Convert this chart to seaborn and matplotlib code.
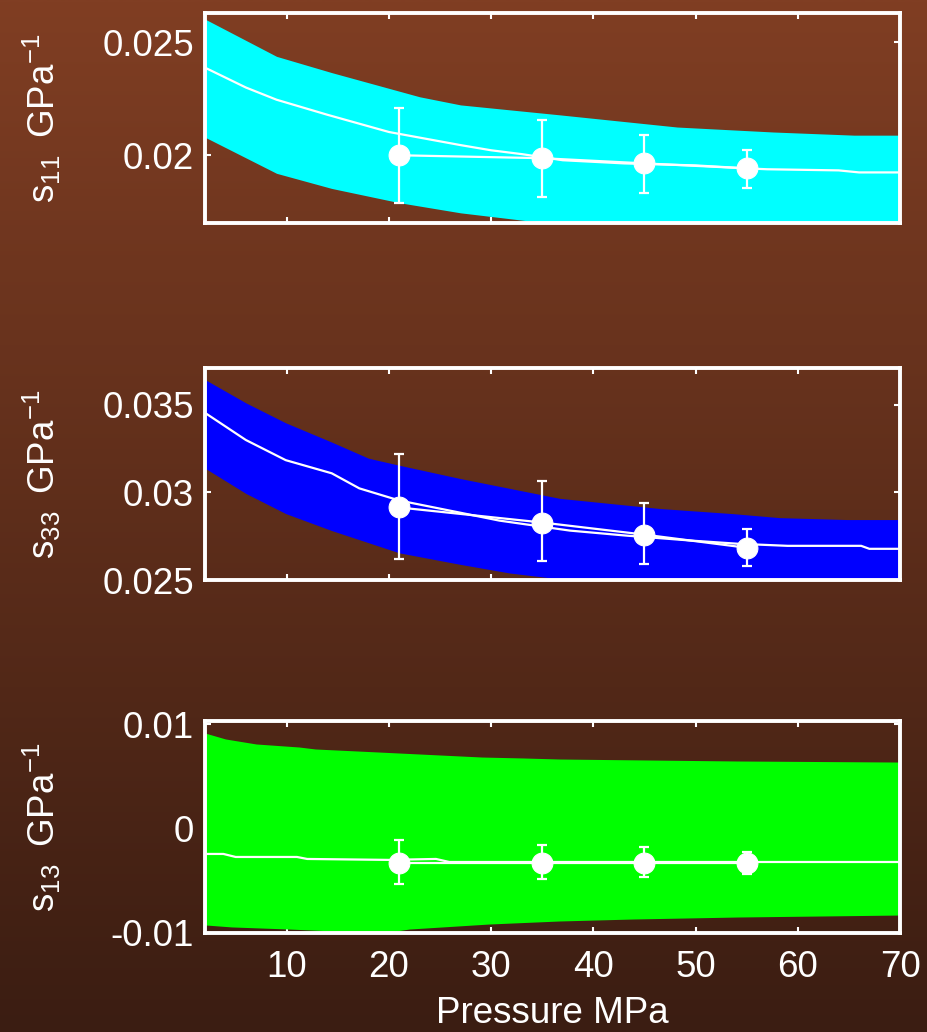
import numpy as np
import pandas as pd
import matplotlib
matplotlib.use("Agg")
import matplotlib.pyplot as plt
import seaborn as sns
from matplotlib.ticker import FixedLocator, FixedFormatter

# ---------------- data ----------------
# measured points (pressure, MPa)
P_pts = [21, 35, 45, 55]

s11_pts = [0.0200, 0.01987, 0.01964, 0.01942]
s11_err_hi = [0.0221, 0.02156, 0.02089, 0.02022]
s11_err_lo = [0.0179, 0.01813, 0.01835, 0.01857]

s33_pts = [0.02914, 0.02828, 0.02759, 0.02684]
s33_err_hi = [0.03218, 0.03063, 0.02937, 0.02793]
s33_err_lo = [0.02621, 0.02609, 0.02592, 0.02580]

s13_pts = [-0.0033, -0.0033, -0.0033, -0.0033]
s13_err_hi = [-0.00110, -0.00157, -0.00177, -0.00225]
s13_err_lo = [-0.00531, -0.00483, -0.00464, -0.00435]

# model curves (mean and band)
s11_mean_P = [2, 6, 9, 14, 20, 27, 30, 33, 37, 43, 50, 55, 57, 64, 66, 70]
s11_mean = [0.02388, 0.02300, 0.02246, 0.02179, 0.02103, 0.02045, 0.02022, 0.02005,
            0.01978, 0.01964, 0.01955, 0.01942, 0.01938, 0.01933, 0.01924, 0.01924]
s11_up_P = [2, 9, 14.4, 23, 27, 36.7, 48.2, 57.6, 65.5, 70]
s11_up = [0.02603, 0.02438, 0.02366, 0.02259, 0.02223, 0.02179, 0.02125, 0.02103, 0.02089, 0.02089]
s11_lo_P = [2, 9, 14.4, 21, 27, 33.5, 40, 50, 60, 70]
s11_lo = [0.0208, 0.0192, 0.01853, 0.0179, 0.01745, 0.0171, 0.0169, 0.0168, 0.0167, 0.0167]

s33_mean_P = [2, 6, 9.9, 14.4, 17.1, 21, 26.9, 30.8, 37.7, 43.3, 49.8, 54.1, 59, 66.2, 67, 70]
s33_mean = [0.03454, 0.03299, 0.03184, 0.03109, 0.03023, 0.02954, 0.02885, 0.02839,
            0.02782, 0.02753, 0.02724, 0.02707, 0.02695, 0.02695, 0.02678, 0.02678]
s33_up_P = [2, 6, 9.9, 14.4, 18, 21, 26.9, 36.7, 46.5, 53.6, 58.2, 64.8, 70]
s33_up = [0.03644, 0.03511, 0.03397, 0.03287, 0.03195, 0.03155, 0.0308, 0.02966,
          0.02908, 0.02879, 0.02856, 0.02845, 0.02845]
s33_lo_P = [2, 6, 9.9, 14.4, 21, 26.9, 31.8, 36.7, 42, 50, 60, 70]
s33_lo = [0.03138, 0.02994, 0.02879, 0.02782, 0.02655, 0.0259, 0.0254, 0.02506,
          0.0248, 0.0247, 0.0246, 0.0246]

s13_mean_P = [2, 3.8, 5, 11, 12, 20, 24.6, 25.9, 70]
s13_mean = [-0.00243, -0.00243, -0.00272, -0.00272, -0.00291, -0.0030, -0.00291, -0.0032, -0.0032]
s13_up_P = [2, 4, 7, 11.2, 12.8, 19, 23, 29.1, 33.1, 36.7, 54.1, 70]
s13_up = [0.00915, 0.00858, 0.0081, 0.00781, 0.00762, 0.00733, 0.00714, 0.00685,
          0.00676, 0.00666, 0.00647, 0.00637]
s13_lo_P = [2, 4.6, 10.2, 16.8, 20, 22, 29.8, 36.7, 43.9, 54.1, 70]
s13_lo = [-0.00923, -0.00942, -0.00962, -0.0099, -0.0099, -0.00962, -0.00914, -0.00885,
          -0.00866, -0.00847, -0.00828]

x_ticks = [10, 20, 30, 40, 50, 60, 70]
x_ticklabels = ["10", "20", "30", "40", "50", "60", "70"]
s11_yticks = [0.02, 0.025]
s11_yticklabels = ["0.02", "0.025"]
s33_yticks = [0.025, 0.03, 0.035]
s33_yticklabels = ["0.025", "0.03", "0.035"]
s13_yticks = [-0.01, 0.0, 0.01]
s13_yticklabels = ["-0.01", "0", "0.01"]

ylabels = [r"$\mathregular{s_{11}\;\;GPa^{-1}}$",
           r"$\mathregular{s_{33}\;\;GPa^{-1}}$",
           r"$\mathregular{s_{13}\;\;GPa^{-1}}$"]
xlabel = "Pressure MPa"

# ---------------- style ----------------
sns.set_theme(style="ticks")
plt.rcParams["font.family"] = ["Liberation Sans", "DejaVu Sans"]
plt.rcParams["mathtext.fontset"] = "custom"
plt.rcParams["mathtext.rm"] = "Liberation Sans"
plt.rcParams["mathtext.it"] = "Liberation Sans:italic"
plt.rcParams["mathtext.bf"] = "Liberation Sans:bold"
FS = 26.5

fig = plt.figure(figsize=(9.27, 10.32), dpi=100)

# gradient background
bg = fig.add_axes([0, 0, 1, 1], zorder=-10)
top_c = np.array([128, 62, 35]) / 255.0
bot_c = np.array([59, 29, 18]) / 255.0
t = np.linspace(0, 1, 256)[:, None]
grad = (top_c[None, :] * (1 - t) + bot_c[None, :] * t)[:, None, :]
bg.imshow(grad, aspect="auto", extent=[0, 1, 0, 1], interpolation="bilinear")
bg.set_axis_off()

W, H = 927.0, 1032.0
left, right = 205 / W, 900 / W
boxes = [(13, 223), (368, 580), (721, 933)]

panels = [
    dict(mP=s11_mean_P, m=s11_mean, uP=s11_up_P, u=s11_up, lP=s11_lo_P, l=s11_lo,
         pts=s11_pts, hi=s11_err_hi, lo=s11_err_lo, color="#00FFFF",
         ylim=(0.0170, 0.0263), yt=s11_yticks, ytl=s11_yticklabels),
    dict(mP=s33_mean_P, m=s33_mean, uP=s33_up_P, u=s33_up, lP=s33_lo_P, l=s33_lo,
         pts=s33_pts, hi=s33_err_hi, lo=s33_err_lo, color="#0000FF",
         ylim=(0.0250, 0.0371), yt=s33_yticks, ytl=s33_yticklabels),
    dict(mP=s13_mean_P, m=s13_mean, uP=s13_up_P, u=s13_up, lP=s13_lo_P, l=s13_lo,
         pts=s13_pts, hi=s13_err_hi, lo=s13_err_lo, color="#00FF00",
         ylim=(-0.0100, 0.0103), yt=s13_yticks, ytl=s13_yticklabels),
]

for i, (pn, (yt_px, yb_px)) in enumerate(zip(panels, boxes)):
    ax = fig.add_axes([left, 1 - yb_px / H, right - left, (yb_px - yt_px) / H])
    ax.set_facecolor("none")

    # band: combine upper and lower edges on a shared set of read abscissae
    Pb = np.union1d(pn["uP"], pn["lP"])
    up = np.interp(Pb, pn["uP"], pn["u"])
    lo = np.interp(Pb, pn["lP"], pn["l"])
    ax.fill_between(Pb, lo, up, color=pn["color"], lw=0, zorder=1)

    dfm = pd.DataFrame({"P": pn["mP"], "v": pn["m"]})
    sns.lineplot(data=dfm, x="P", y="v", ax=ax, color="white", lw=1.6, zorder=3)

    dfp = pd.DataFrame({"P": P_pts, "v": pn["pts"]})
    yerr = [np.array(pn["pts"]) - np.array(pn["lo"]), np.array(pn["hi"]) - np.array(pn["pts"])]
    ax.errorbar(P_pts, pn["pts"], yerr=yerr, fmt="none", ecolor="white",
                elinewidth=1.6, capsize=3.8, capthick=1.6, zorder=4)
    sns.lineplot(data=dfp, x="P", y="v", ax=ax, color="white", lw=1.6,
                 marker="o", markersize=15, markeredgecolor="white",
                 markerfacecolor="white", zorder=5)

    ax.set_xlim(2, 70)
    ax.set_ylim(*pn["ylim"])
    ax.xaxis.set_major_locator(FixedLocator(x_ticks))
    ax.yaxis.set_major_locator(FixedLocator(pn["yt"]))
    ax.yaxis.set_major_formatter(FixedFormatter(pn["ytl"]))
    if i == 2:
        ax.xaxis.set_major_formatter(FixedFormatter(x_ticklabels))
        ax.set_xlabel(xlabel, fontsize=FS, color="white", labelpad=8)
    else:
        ax.xaxis.set_major_formatter(FixedFormatter([""] * len(x_ticks)))
        ax.set_xlabel("")

    ax.tick_params(axis="both", which="both", direction="in", colors="white",
                   labelcolor="white", labelsize=FS, length=4, width=1.5,
                   top=True, right=True)
    ax.tick_params(axis="y", pad=8)
    ax.tick_params(axis="x", pad=12)
    for sp in ax.spines.values():
        sp.set_color("white")
        sp.set_linewidth(2.8)
        sp.set_zorder(6)

    ax.set_ylabel(ylabels[i], fontsize=FS, color="white")
    ax.yaxis.set_label_coords(-0.205, 0.5)

fig.savefig("out.png", dpi=100)
